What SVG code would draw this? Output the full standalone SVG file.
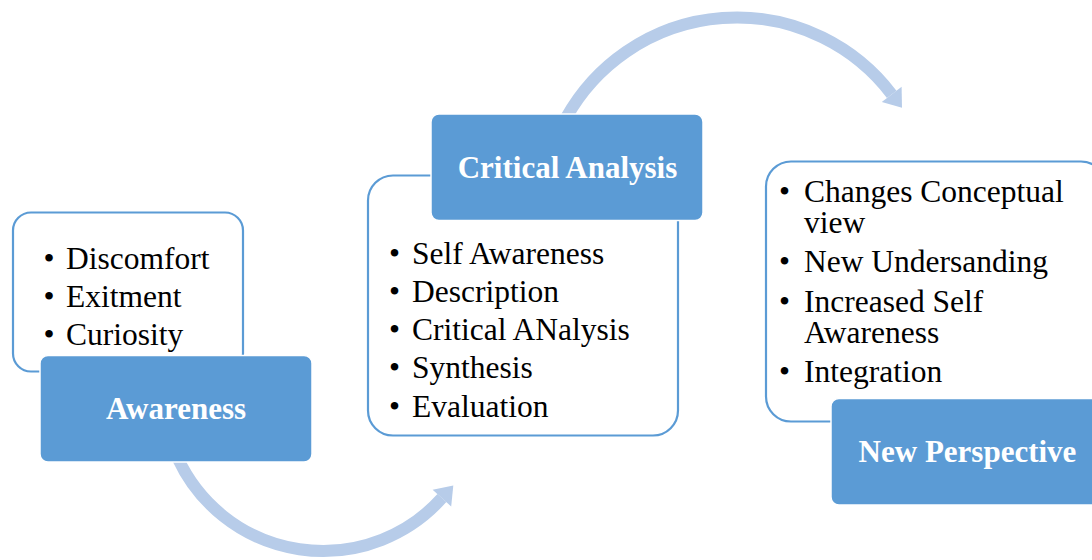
<svg xmlns="http://www.w3.org/2000/svg" width="1092" height="560" viewBox="0 0 1092 560">
  <style>
    .arc { fill: none; stroke: #B7CCE9; stroke-width: 12; }
    .head { fill: #B7CCE9; }
    .outline { fill: #FFFFFF; stroke: #5B9BD5; stroke-width: 2.2; }
    .title { fill: #5B9BD5; stroke: #FFFFFF; stroke-width: 1.5; }
    .ttext { font-family: "Liberation Serif", "Times New Roman", serif; font-weight: bold; font-size: 31px; fill: #FFFFFF; text-anchor: middle; }
    .item { font-family: "Liberation Serif", "Times New Roman", serif; font-size: 31.5px; fill: #000000; }
  </style>
  <rect width="1092" height="560" fill="#FFFFFF"/>
  <g id="connectors">
    <path class="arc" d="M 178 458.6 A 160 160 0 0 0 441.9 498.1"/>
    <polygon class="head" points="451.2,506.5 432.6,489.7 453.3,485.5"/>
    <path class="arc" d="M 566 118 A 195 195 0 0 1 891.7 94.3"/>
    <polygon class="head" points="901.6,86.7 881.8,101.9 902.0,107.8"/>
  </g>
  <g id="node-awareness">
    <rect class="outline" x="13" y="212.5" width="230" height="159" rx="18"/>
    <text class="item" x="43.4" y="269">•</text>
    <text class="item" x="66" y="269">Discomfort</text>
    <text class="item" x="43.4" y="307">•</text>
    <text class="item" x="66" y="307">Exitment</text>
    <text class="item" x="43.4" y="345">•</text>
    <text class="item" x="66" y="345">Curiosity</text>
    <rect class="title" x="40" y="355.5" width="272" height="106.5" rx="8"/>
    <text class="ttext" x="176" y="418.5">Awareness</text>
  </g>
  <g id="node-critical-analysis">
    <rect class="outline" x="368" y="175.5" width="310" height="260" rx="25"/>
    <text class="item" x="389" y="263.5">•</text>
    <text class="item" x="412" y="263.5">Self Awareness</text>
    <text class="item" x="389" y="301.8">•</text>
    <text class="item" x="412" y="301.8">Description</text>
    <text class="item" x="389" y="340">•</text>
    <text class="item" x="412" y="340">Critical ANalysis</text>
    <text class="item" x="389" y="378.4">•</text>
    <text class="item" x="412" y="378.4">Synthesis</text>
    <text class="item" x="389" y="416.7">•</text>
    <text class="item" x="412" y="416.7">Evaluation</text>
    <rect class="title" x="431" y="114" width="272" height="106.5" rx="8"/>
    <text class="ttext" x="567.5" y="177.5">Critical Analysis</text>
  </g>
  <g id="node-new-perspective">
    <rect class="outline" x="766" y="161.5" width="340" height="260" rx="25"/>
    <text class="item" x="779" y="201.5">•</text>
    <text class="item" x="804" y="201.5">Changes Conceptual<tspan x="804" y="232.5">view</tspan></text>
    <text class="item" x="779" y="271.8">•</text>
    <text class="item" x="804" y="271.8">New Undersanding</text>
    <text class="item" x="779" y="311.5">•</text>
    <text class="item" x="804" y="311.5">Increased Self<tspan x="804" y="343.3">Awareness</tspan></text>
    <text class="item" x="779" y="381.8">•</text>
    <text class="item" x="804" y="381.8">Integration</text>
    <rect class="title" x="831" y="398.5" width="272" height="106.5" rx="8"/>
    <text class="ttext" x="967.5" y="462">New Perspective</text>
  </g>
</svg>
